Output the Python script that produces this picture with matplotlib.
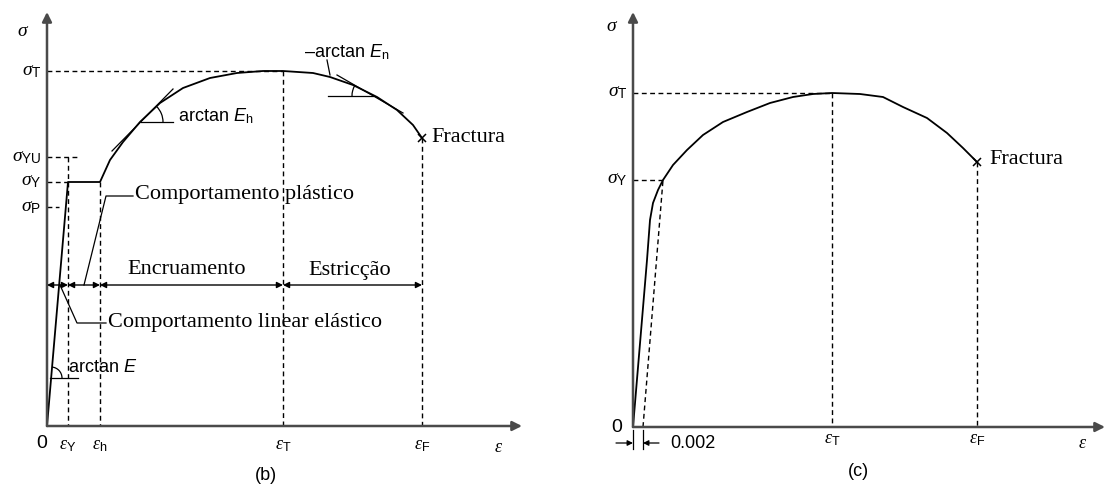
import numpy as np
import matplotlib
matplotlib.use("Agg")
import matplotlib.pyplot as plt
from matplotlib.patches import Arc

plt.rcParams['font.family'] = ['Liberation Sans', 'DejaVu Sans']
plt.rcParams['mathtext.fontset'] = 'custom'
plt.rcParams['mathtext.rm'] = 'Liberation Serif'
plt.rcParams['mathtext.it'] = 'Liberation Serif:italic'
plt.rcParams['mathtext.bf'] = 'Liberation Serif:bold'
plt.rcParams['mathtext.sf'] = 'Liberation Sans'
plt.rcParams['mathtext.cal'] = 'Liberation Sans:italic'

# ---- curve (b): idealised mild-steel behaviour (arbitrary units) ----
eps_b = [0, 0.21, 0.53, 0.63, 0.76, 0.93, 1.13, 1.36, 1.63, 1.90, 2.16,
         2.36, 2.66, 2.83, 3.06, 3.30, 3.50, 3.66, 3.75]
sig_b = [0, 2.44, 2.44, 2.66, 2.84, 3.04, 3.23, 3.38, 3.48, 3.53, 3.55,
         3.55, 3.53, 3.49, 3.41, 3.29, 3.16, 3.01, 2.88]
b_eps_Y, b_eps_h, b_eps_T, b_eps_F = 0.21, 0.53, 2.36, 3.75
b_sig_P, b_sig_Y, b_sig_YU, b_sig_T, b_sig_F = 2.19, 2.44, 2.69, 3.55, 2.88

# ---- curve (c): material without a defined yield plateau ----
eps_c = [0, 0.14, 0.17, 0.20, 0.25, 0.30, 0.40, 0.54, 0.70, 0.90, 1.14,
         1.37, 1.60, 1.80, 1.99, 2.27, 2.50, 2.70, 2.94, 3.14, 3.30, 3.44]
sig_c = [0, 1.67, 2.07, 2.24, 2.37, 2.47, 2.62, 2.77, 2.92, 3.05, 3.15,
         3.24, 3.30, 3.33, 3.34, 3.33, 3.30, 3.20, 3.09, 2.94, 2.79, 2.65]
c_offset = 0.10          # the 0.002 offset line
c_eps_Y, c_eps_T, c_eps_F = 0.30, 1.99, 3.44
c_sig_Y, c_sig_T, c_sig_F = 2.47, 3.34, 2.65

SERIF = ['Liberation Serif', 'DejaVu Serif']
DASH = (0, (3.5, 2.5))
AXC = '#4a4a4a'

fig = plt.figure(figsize=(11.07, 4.91), dpi=100)
ax_b = fig.add_axes([0, 0, 1, 1])
ax_c = fig.add_axes([0, 0, 1, 1])
ax_b.set_xlim(-0.47, 10.60)
ax_b.set_ylim(-0.65, 4.26)
ax_c.set_xlim(-6.33, 4.74)
ax_c.set_ylim(-0.64, 4.27)
for ax in (ax_b, ax_c):
    ax.axis('off')
    ax.patch.set_alpha(0)


def axes_arrows(ax, xmax, ymax):
    kw = dict(arrowstyle='-|>', lw=1.8, color=AXC, mutation_scale=14,
              shrinkA=0, shrinkB=0)
    ax.annotate('', xy=(0, ymax), xytext=(0, 0), arrowprops=kw)
    ax.annotate('', xy=(xmax, 0), xytext=(0, 0), arrowprops=kw)


def dashed(ax, xs, ys):
    ax.plot(xs, ys, color='k', lw=1.0, ls=DASH)


def sig_label(ax, y, txt):
    ax.annotate(txt, (0, y), xytext=(-4, 0), textcoords='offset points',
                ha='right', va='center', fontsize=14)


# ======================= panel (b) =======================
axes_arrows(ax_b, 4.75, 4.14)
ax_b.plot(eps_b, sig_b, color='k', lw=1.3)
ax_b.plot(eps_b[-1], sig_b[-1], marker='x', color='k', ms=6, mew=1.1)
ax_b.text(b_eps_F + 0.09, b_sig_F, 'Fractura', fontsize=16, family=SERIF,
          va='center')

dashed(ax_b, [0, b_eps_T], [b_sig_T, b_sig_T])
dashed(ax_b, [b_eps_T, b_eps_T], [b_sig_T, 0])
dashed(ax_b, [b_eps_F, b_eps_F], [b_sig_F, 0])
dashed(ax_b, [0, 0.31], [b_sig_YU, b_sig_YU])
dashed(ax_b, [b_eps_Y, b_eps_Y], [b_sig_YU, 0])
dashed(ax_b, [0, b_eps_Y], [b_sig_Y, b_sig_Y])
dashed(ax_b, [0, 0.12], [b_sig_P, b_sig_P])
dashed(ax_b, [b_eps_h, b_eps_h], [b_sig_Y, 0])

sig_label(ax_b, b_sig_T, r'$\sigma_{\mathsf{T}}$')
sig_label(ax_b, b_sig_YU, r'$\sigma_{\mathsf{YU}}$')
sig_label(ax_b, b_sig_Y, r'$\sigma_{\mathsf{Y}}$')
sig_label(ax_b, b_sig_P, r'$\sigma_{\mathsf{P}}$')
ax_b.text(-0.24, 3.94, r'$\sigma$', fontsize=14, ha='center', va='center')

ax_b.text(-0.05, -0.17, '0', fontsize=14, ha='center', va='center')
for x, t in [(b_eps_Y, r'$\varepsilon_{\mathsf{Y}}$'),
             (b_eps_h, r'$\varepsilon_{\mathsf{h}}$'),
             (b_eps_T, r'$\varepsilon_{\mathsf{T}}$'),
             (b_eps_F, r'$\varepsilon_{\mathsf{F}}$')]:
    ax_b.text(x, -0.19, t, fontsize=13, ha='center', va='center')
ax_b.text(4.52, -0.22, r'$\varepsilon$', fontsize=13, ha='center', va='center')
ax_b.text(2.19, -0.49, '(b)', fontsize=13, ha='center', va='center')

# region arrows
y_arr = 1.41
bounds = [0, b_eps_Y, b_eps_h, b_eps_T, b_eps_F]
for x0, x1 in zip(bounds[:-1], bounds[1:]):
    ax_b.annotate('', xy=(x1, y_arr), xytext=(x0, y_arr),
                  arrowprops=dict(arrowstyle='<|-|>', lw=1.0, color='k',
                                  mutation_scale=9, shrinkA=0, shrinkB=0))
ax_b.text(1.40, 1.56, 'Encruamento', fontsize=16, family=SERIF,
          ha='center', va='center')
ax_b.text(3.03, 1.56, 'Estricção', fontsize=16, family=SERIF,
          ha='center', va='center')

# leaders
ax_b.plot([0.86, 0.59, 0.37], [2.30, 2.30, y_arr], color='k', lw=0.9)
ax_b.text(0.88, 2.31, 'Comportamento plástico', fontsize=16, family=SERIF,
          va='center')
ax_b.plot([0.59, 0.30, 0.13], [1.03, 1.03, y_arr], color='k', lw=0.9)
ax_b.text(0.61, 1.04, 'Comportamento linear elástico', fontsize=16,
          family=SERIF, va='center')

# arctan E at the origin
ax_b.plot([0.03, 0.31], [0.48, 0.48], color='k', lw=0.9)
ax_b.add_patch(Arc((0.04, 0.48), 0.22, 0.22, theta1=0, theta2=85,
                   color='k', lw=0.9))
ax_b.text(0.21, 0.59, r'arctan $\mathcal{E}$', fontsize=13, va='center')

# tangent for E_h
ax_b.plot([0.65, 1.26], [2.75, 3.37], color='k', lw=0.9)
ax_b.plot([0.94, 1.26], [3.04, 3.04], color='k', lw=0.9)
ax_b.add_patch(Arc((0.94, 3.04), 0.44, 0.44, theta1=0, theta2=45,
                   color='k', lw=0.9))
ax_b.text(1.31, 3.10, r'arctan $\mathcal{E}_{\mathsf{h}}$', fontsize=13,
          va='center')

# tangent for E_n
ax_b.plot([2.90, 3.56], [3.51, 3.13], color='k', lw=0.9)
ax_b.plot([2.81, 3.26], [3.30, 3.30], color='k', lw=0.9)
ax_b.add_patch(Arc((3.26, 3.30), 0.42, 0.42, theta1=150, theta2=180,
                   color='k', lw=0.9))
ax_b.plot([2.80, 2.83], [3.66, 3.51], color='k', lw=0.9)
ax_b.text(3.00, 3.74, r'–arctan $\mathcal{E}_{\mathsf{n}}$', fontsize=13,
          ha='center', va='center')

# ======================= panel (c) =======================
axes_arrows(ax_c, 4.72, 4.15)
ax_c.plot(eps_c, sig_c, color='k', lw=1.3)
ax_c.plot(eps_c[-1], sig_c[-1], marker='x', color='k', ms=6, mew=1.1)
ax_c.text(c_eps_F + 0.12, c_sig_F + 0.03, 'Fractura', fontsize=16,
          family=SERIF, va='center')

dashed(ax_c, [c_offset, c_eps_Y], [0, c_sig_Y])
dashed(ax_c, [0, c_eps_Y], [c_sig_Y, c_sig_Y])
dashed(ax_c, [0, c_eps_T], [c_sig_T, c_sig_T])
dashed(ax_c, [c_eps_T, c_eps_T], [c_sig_T, 0])
dashed(ax_c, [c_eps_F, c_eps_F], [c_sig_F, 0])

sig_label(ax_c, c_sig_T, r'$\sigma_{\mathsf{T}}$')
sig_label(ax_c, c_sig_Y, r'$\sigma_{\mathsf{Y}}$')
ax_c.text(-0.21, 4.00, r'$\sigma$', fontsize=14, ha='center', va='center')

ax_c.text(-0.16, -0.01, '0', fontsize=14, ha='center', va='center')
for x, t in [(c_eps_T, r'$\varepsilon_{\mathsf{T}}$'),
             (c_eps_F, r'$\varepsilon_{\mathsf{F}}$')]:
    ax_c.text(x, -0.13, t, fontsize=13, ha='center', va='center')
ax_c.text(4.50, -0.16, r'$\varepsilon$', fontsize=13, ha='center',
          va='center')
ax_c.text(2.25, -0.45, '(c)', fontsize=13, ha='center', va='center')

# 0.002 offset dimension
for x in (0, c_offset):
    ax_c.plot([x, x], [-0.03, -0.22], color='k', lw=0.9)
akw = dict(arrowstyle='-|>', lw=0.9, color='k', mutation_scale=8,
           shrinkA=0, shrinkB=0)
ax_c.annotate('', xy=(0, -0.16), xytext=(-0.17, -0.16), arrowprops=akw)
ax_c.annotate('', xy=(c_offset, -0.16), xytext=(0.26, -0.16),
              arrowprops=akw)
ax_c.text(0.37, -0.17, '0.002', fontsize=13, va='center')

fig.savefig('out.png', dpi=100, facecolor='white')
